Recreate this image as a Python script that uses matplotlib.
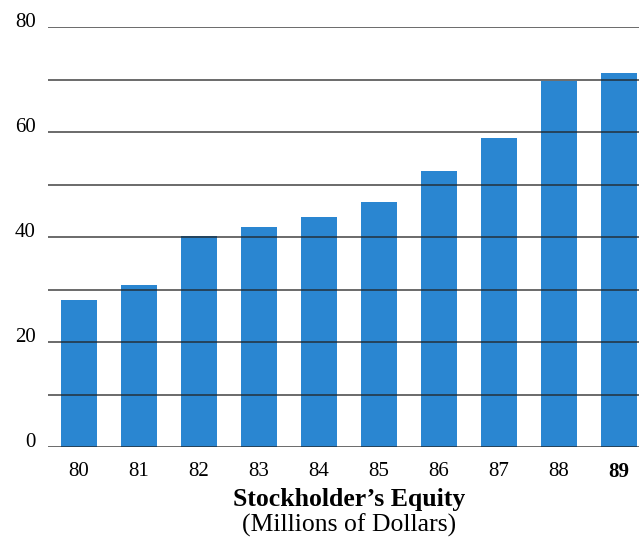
import numpy as np
import matplotlib.pyplot as plt
from matplotlib import transforms

# ---------------- data ----------------
years = ['80', '81', '82', '83', '84', '85', '86', '87', '88', '89']
equity = [28.0, 30.9, 40.2, 41.9, 43.8, 46.7, 52.6, 58.9, 69.8, 71.3]
y_ticks = [0, 20, 40, 60, 80]
grid_levels = [0, 10, 20, 30, 40, 50, 60, 70, 80]

bar_color = '#2a86d1'
serif = ['Liberation Serif', 'DejaVu Serif']

fig = plt.figure(figsize=(6.39, 5.41), dpi=100)
ax = fig.add_axes([48 / 639, 1 - 447 / 541, 1 - 48 / 639, (447 - 27) / 541])

x = np.arange(len(years))
ax.bar(x, equity, width=0.6, color=bar_color, zorder=1)

# horizontal rules every 10, drawn over the bars
for g in grid_levels:
    ax.axhline(g, color='#222222', lw=1.1, alpha=0.85, zorder=2)

ax.set_xlim(-0.517, 9.333)
ax.set_ylim(0, 80)

for s in ax.spines.values():
    s.set_visible(False)

ax.set_yticks(y_ticks)
ax.set_yticklabels([str(v) for v in y_ticks], fontfamily=serif, fontsize=15,
                   va='baseline')
ax.set_xticks(x)
ax.set_xticklabels(years, fontfamily=serif, fontsize=15)
ax.get_xticklabels()[-1].set_fontweight('bold')
ax.tick_params(axis='both', length=0)
ax.tick_params(axis='y', pad=9)
ax.tick_params(axis='x', pad=11)

# two-line axis caption centred under the bars
trans = transforms.blended_transform_factory(ax.transData, fig.transFigure)
ax.text(4.5, 1 - 506 / 541, 'Stockholder\u2019s Equity', transform=trans,
        ha='center', va='baseline', fontfamily=serif, fontsize=18.5,
        fontweight='bold')
ax.text(4.5, 1 - 532 / 541, '(Millions of Dollars)', transform=trans,
        ha='center', va='baseline', fontfamily=serif, fontsize=18.5)

fig.savefig('out.png', dpi=100)
